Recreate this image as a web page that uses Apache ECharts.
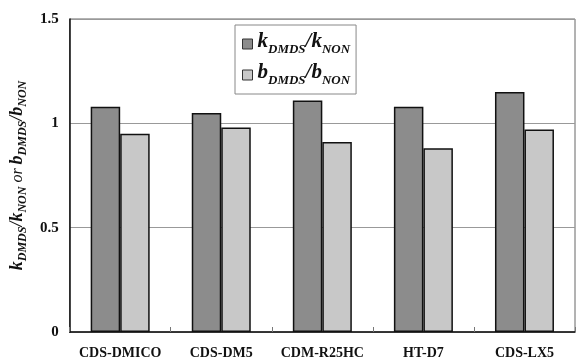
<!DOCTYPE html>
<html>
<head>
<meta charset="utf-8">
<script src="https://cdn.jsdelivr.net/npm/echarts@6/dist/echarts.min.js"></script>
<style>
  html, body { margin: 0; padding: 0; background: #fff; }
  #chart { width: 576px; height: 362px; }
</style>
</head>
<body>
<div id="chart"></div>
<script>
// Coal samples on the category axis
const categories = ['CDS-DMICO', 'CDS-DM5', 'CDM-R25HC', 'HT-D7', 'CDS-LX5'];
// Ratio k(DMDS)/k(NON)
const kRatio = [1.08, 1.05, 1.11, 1.08, 1.15];
// Ratio b(DMDS)/b(NON)
const bRatio = [0.95, 0.98, 0.91, 0.88, 0.97];
// Value axis ticks
const yTicks = [0, 0.5, 1, 1.5];

const serif = '"Liberation Serif", "Times New Roman", serif';

const richSub = {
  m: { fontFamily: serif, fontWeight: 'bold', fontStyle: 'italic', fontSize: 21, color: '#111', verticalAlign: 'bottom', padding: [0, 0, 4, 0] },
  s: { fontFamily: serif, fontWeight: 'bold', fontStyle: 'italic', fontSize: 13, color: '#111', verticalAlign: 'bottom', padding: [0, 0, 0, 0] }
};
const richAxis = {
  m: { fontFamily: serif, fontWeight: 'bold', fontStyle: 'italic', fontSize: 18, color: '#111', verticalAlign: 'bottom', padding: [0, 0, 3, 0] },
  s: { fontFamily: serif, fontWeight: 'bold', fontStyle: 'italic', fontSize: 12, color: '#111', verticalAlign: 'bottom' },
  o: { fontFamily: serif, fontStyle: 'italic', fontSize: 16, color: '#111', verticalAlign: 'bottom', padding: [0, 0, 3, 0] }
};

const seriesNames = ['kRatio', 'bRatio'];
const legendText = {
  kRatio: '{m|k}{s|DMDS}{m|/k}{s|NON}',
  bRatio: '{m|b}{s|DMDS}{m|/b}{s|NON}'
};

const chart = echarts.init(document.getElementById('chart'), null, { renderer: 'canvas' });
chart.setOption({
  animation: false,
  backgroundColor: '#fff',
  grid: {
    left: 66, right: 1, top: 19, bottom: 30,
    show: true, borderColor: '#666', borderWidth: 1, backgroundColor: 'transparent'
  },
  legend: {
    data: seriesNames,
    orient: 'vertical',
    left: 235, top: 25,
    padding: [6, 6, 7, 7],
    itemGap: 6,
    itemWidth: 10, itemHeight: 10,
    icon: 'rect',
    borderColor: '#888', borderWidth: 1,
    backgroundColor: '#fff',
    itemStyle: { borderColor: '#333', borderWidth: 1 },
    formatter: name => legendText[name],
    textStyle: { rich: richSub, lineHeight: 24, padding: [0, 0, 0, 0] }
  },
  xAxis: {
    type: 'category',
    data: categories,
    axisLine: { lineStyle: { color: '#111', width: 1.5 } },
    axisTick: { show: true, inside: true, length: 5, lineStyle: { color: '#777' } },
    axisLabel: { interval: 0, fontFamily: serif, fontWeight: 'bold', fontSize: 14, color: '#111', margin: 14 }
  },
  yAxis: {
    type: 'value',
    min: 0, max: 1.5, interval: 0.5,
    axisLine: { show: true, lineStyle: { color: '#111', width: 1.5 } },
    axisTick: { show: false },
    splitLine: { show: true, lineStyle: { color: '#999', width: 1 } },
    axisLabel: {
      fontFamily: serif, fontWeight: 'bold', fontSize: 15, color: '#111', margin: 11,
      formatter: v => (yTicks.includes(v) ? String(v) : '')
    },
    name: '{m|k}{s|DMDS}{m|/k}{s|NON}{o| or }{m|b}{s|DMDS}{m|/b}{s|NON}',
    nameLocation: 'middle',
    nameRotate: 90,
    nameGap: 34,
    nameTextStyle: { rich: richAxis }
  },
  series: [
    {
      name: 'kRatio', type: 'bar', data: kRatio,
      barWidth: 29.5, barGap: '0%',
      itemStyle: { color: '#8c8c8c', borderColor: '#111', borderWidth: 1.5 }
    },
    {
      name: 'bRatio', type: 'bar', data: bRatio,
      barWidth: 29.5, barGap: '0%',
      itemStyle: { color: '#c8c8c8', borderColor: '#111', borderWidth: 1.5 }
    }
  ]
});
</script>
</body>
</html>
